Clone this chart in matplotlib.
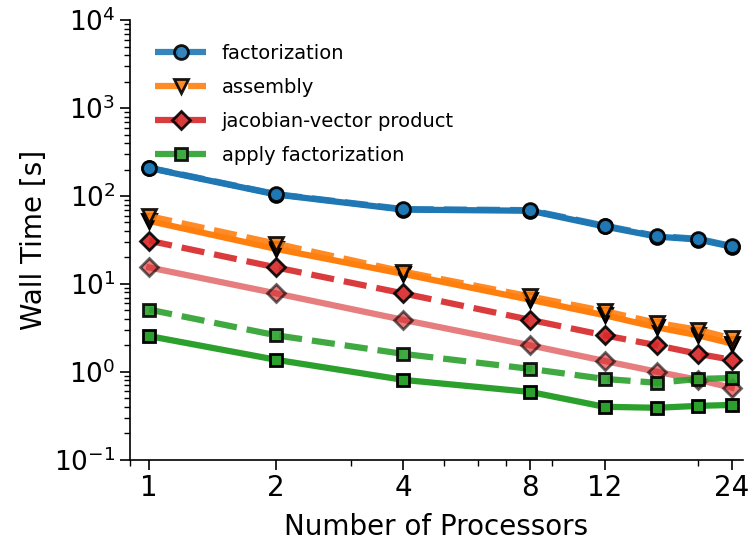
import numpy as np
import matplotlib
matplotlib.use('Agg')
from matplotlib import pyplot as plt

plt.rcParams['font.family'] = ['DejaVu Sans']
plt.rcParams['mathtext.fontset'] = 'cm'

procs = [1, 2, 4, 8, 12, 16, 20, 24]
xticks = [1, 2, 4, 8, 12, 24]

# dashed runs
fact_a = [210, 105, 71, 69, 46, 35, 32.6, 27]
asm_a = [59, 28.7, 13.8, 7.2, 4.9, 3.6, 3.0, 2.4]
jvp_a = [31, 15.4, 7.8, 3.9, 2.6, 2.0, 1.6, 1.37]
apply_a = [5.1, 2.6, 1.6, 1.08, 0.83, 0.75, 0.83, 0.85]

# solid runs
fact_b = [208, 104, 70, 68, 45, 34.5, 32, 26.5]
asm_b = [52, 25, 13, 6.6, 4.4, 3.2, 2.6, 2.1]
jvp_b = [15.4, 7.8, 3.9, 2.0, 1.33, 1.0, 0.81, 0.66]
apply_b = [2.55, 1.37, 0.81, 0.59, 0.40, 0.39, 0.41, 0.42]

labels = ['factorization', 'assembly', 'jacobian-vector product', 'apply factorization']
colors = ['tab:blue', 'tab:orange', 'tab:red', 'tab:green']
markers = ['o', 'v', 'D', 's']
sizes = [10, 10, 9, 9]

fig = plt.figure(figsize=(7.51, 5.46), dpi=100)
ax = fig.add_axes([0.173, 0.158, 0.816, 0.805])

solid = [fact_b, asm_b, jvp_b, apply_b]
dashed = [fact_a, asm_a, jvp_a, apply_a]
alphas = [1.0, 1.0, 0.6, 1.0]

for i in range(4):
    ax.plot(procs, solid[i], '-', color=colors[i], lw=4.5, marker=markers[i],
            ms=sizes[i], mec='k', mew=2, alpha=alphas[i], zorder=2)

handles = []
for i in range(4):
    h, = ax.plot(procs, dashed[i], '--', color=colors[i], lw=4.5, marker=markers[i],
                 ms=sizes[i], mec='k', mew=2, alpha=0.9, label=labels[i], zorder=3)
    handles.append(h)

ax.set_xscale('log')
ax.set_yscale('log')
ax.set_xlim(0.9, 25.5)
ax.set_ylim(0.1, 1e4)
ax.set_xticks(xticks)
ax.set_xticklabels([str(t) for t in xticks])
ax.tick_params(labelsize=20, width=1.2, length=7)
ax.tick_params(axis='y', labelsize=19)
ax.tick_params(which='minor', width=1, length=4)

ax.spines['top'].set_visible(False)
ax.spines['right'].set_visible(False)
ax.spines['left'].set_linewidth(1.2)
ax.spines['bottom'].set_linewidth(1.2)

ax.set_xlabel('Number of Processors', fontsize=20, labelpad=8)
ax.set_ylabel('Wall Time [s]', fontsize=20, labelpad=4)

ax.legend(handles=handles, loc='upper left', frameon=False, fontsize=14,
          handlelength=2.6, labelspacing=0.77, borderaxespad=0.6,
          bbox_to_anchor=(0.01, 0.99))

fig.savefig('out.png', dpi=100)
